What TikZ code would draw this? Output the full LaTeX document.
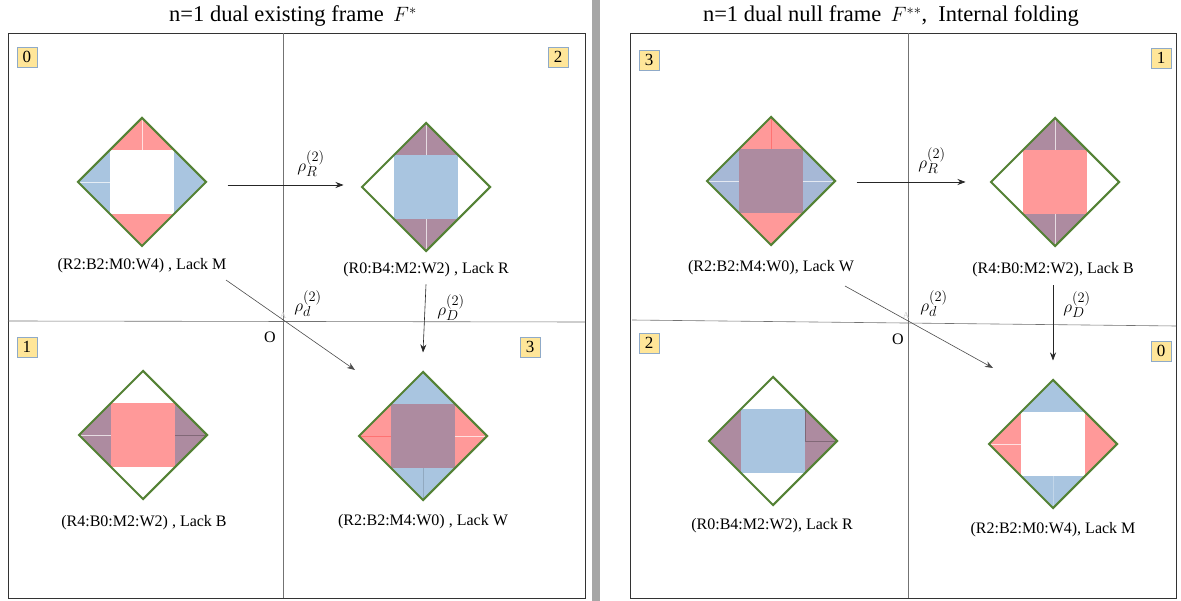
\documentclass[tikz,border=0pt]{standalone}
\usepackage{fontspec}
\setmainfont{Liberation Serif}
\DeclareMathSizes{16}{16}{14}{11}
\usetikzlibrary{arrows.meta,shapes.geometric}
\definecolor{fred}{HTML}{FF9999}
\definecolor{fblue}{HTML}{A9C5E0}
\definecolor{fblue2}{HTML}{A6B8D6}
\definecolor{fpurp}{HTML}{AD8BA0}
\definecolor{fgreen}{HTML}{548235}
\definecolor{nbfill}{HTML}{FFE699}
\definecolor{nbdraw}{HTML}{8FAAC8}
\definecolor{sepgray}{HTML}{A6A6A6}
\tikzset{
  frame/.style={draw=black!80,line width=0.8pt},
  axis/.style={draw=black!55,line width=0.6pt},
  dia/.style={diamond,draw=fgreen,line width=2pt,minimum width=129pt,minimum height=129pt,inner sep=0pt},
  numbox/.style={fill=nbfill,draw=nbdraw,line width=0.8pt,minimum size=20pt,inner sep=0pt,font=\fontsize{17}{17}\selectfont},
  lab/.style={font=\fontsize{16}{18}\selectfont,inner sep=1pt},
  title/.style={font=\fontsize{22.5}{25}\selectfont,inner sep=1pt},
  rho/.style={font=\fontsize{16}{18}\selectfont,inner sep=1pt},
  arr/.style={draw=black!85,line width=0.6pt,-{Stealth[length=8pt,width=6pt]}},
  fold/.style={draw=white,opacity=0.7,line width=0.7pt},
  foldd/.style={draw=black,opacity=0.25,line width=0.7pt},
}
% #1 name, #2 cx, #3 cy, #4 top/bottom colour, #5 left/right colour, #6 centre colour, #7 fold lines
\newcommand{\foldfig}[7]{%
  \begin{scope}[shift={(#2,#3)}]
    \fill[#4] (-32,-32) -- (0,-64) -- (32,-32) -- cycle;
    \fill[#4] (-32,32) -- (0,64) -- (32,32) -- cycle;
    \fill[#5] (-32,-32) -- (-64,0) -- (-32,32) -- cycle;
    \fill[#5] (32,-32) -- (64,0) -- (32,32) -- cycle;
    \fill[#6] (-32,-32) rectangle (32,32);
    #7
  \end{scope}
  \node[dia] (#1) at (#2,#3) {};
}
\begin{document}
\begin{tikzpicture}[x=1pt,y=-1pt]
\useasboundingbox (0,0) rectangle (1181,601);
\fill[white] (0,0) rectangle (1181,601);
\fill[sepgray] (592,0) rectangle (600,601);

% ---------------- left panel ----------------
\node[title,anchor=base] (tL) at (293,22) {n=1 dual existing frame\, $F^{*}$};
\draw[frame] (8,33) rectangle (585,598);
\draw[axis] (283,33) -- (283,598);
\draw[axis] (8,321) -- (585,322);

\node[numbox] (b0L) at (27,57) {0};
\node[numbox] (b2L) at (558,57) {2};
\node[numbox] (b1L) at (27,347) {1};
\node[numbox] (b3L) at (530,347) {3};

\foldfig{LTL}{142}{182}{fred}{fblue}{white}{\draw[fold] (0,-64) -- (0,-32); \draw[fold] (-64,0) -- (-32,0);}
\foldfig{LTR}{426}{187}{fpurp}{white}{fblue}{\draw[fold] (0,-64) -- (0,-32); \draw[fold] (0,64) -- (0,32);}
\foldfig{LBL}{143}{435}{white}{fpurp}{fred}{\draw[fold] (-64,0) -- (-32,0); \draw[foldd] (64,0) -- (32,0);}
\foldfig{LBR}{423}{436}{fblue}{fred}{fpurp}{\draw[foldd,draw=red] (-64,0) -- (-32,0); \draw[fold] (64,0) -- (32,0); \draw[fold,draw=fblue!80!black] (0,64) -- (0,32);}

\node[lab] (lLTL) at (142,266) {(R2:B2:M0:W4) , Lack M};
\node[lab] (lLTR) at (426,270) {(R0:B4:M2:W2) , Lack R};
\node[lab] (lLBL) at (144,523) {(R4:B0:M2:W2) , Lack B};
\node[lab] (lLBR) at (423,522) {(R2:B2:M4:W0) , Lack W};

\node[font=\fontsize{16}{16}\selectfont] (oL) at (270,337) {O};
\node[text=black!20,font=\fontsize{9}{9}\selectfont,inner sep=0pt] (aL) at (283,316) {A};

\draw[arr] ([xshift=20pt,yshift=-3pt]LTL.east) -- ([xshift=-17pt,yshift=2pt]LTR.west);
\node[rho] (rRL) at (311,164) {$\rho_R^{(2)}$};
\draw[arr] ([yshift=-6pt]lLTR.south) -- ([yshift=18pt]LBR.north);
\node[rho] (rDL) at (451,308) {$\rho_D^{(2)}$};
\coordinate (dsL) at (226,280);
\coordinate (deL) at (355,370);
\draw[arr,draw=black!70] (dsL) -- (deL);
\node[rho] (rdL) at (308,304) {$\rho_d^{(2)}$};

% ---------------- right panel ----------------
\node[title,anchor=base] (tR) at (891,22) {n=1 dual null frame\, $F^{**}$,\ \ Internal folding};
\draw[frame] (630,33) rectangle (1176,598);
\draw[axis] (908,33) -- (908,598);
\draw[axis] (632,320) -- (1176,326);

\node[numbox] (b3R) at (649,60) {3};
\node[numbox] (b1R) at (1161,58) {1};
\node[numbox] (b2R) at (649,343) {2};
\node[numbox] (b0R) at (1161,351) {0};

\foldfig{RTL}{771}{181}{fred}{fblue2}{fpurp}{\draw[foldd,draw=red] (0,-64) -- (0,-32); \draw[fold] (-64,0) -- (-32,0); \draw[fold] (64,0) -- (32,0);}
\foldfig{RTR}{1055}{182}{fpurp}{white}{fred}{\draw[fold] (0,-64) -- (0,-32); \draw[fold] (0,64) -- (0,32);}
\foldfig{RBL}{773}{441}{white}{fpurp}{fblue}{\draw[foldd] (64,0) -- (32,0); \draw[foldd] (32,0) -- (32,-32);}
\foldfig{RBR}{1053}{444}{fblue}{fred}{white}{\draw[fold] (-64,0) -- (-32,0); \draw[fold,opacity=0.3] (0,64) -- (0,32);}

\node[lab] (lRTL) at (771,268) {(R2:B2:M4:W0), Lack W};
\node[lab] (lRTR) at (1053,270) {(R4:B0:M2:W2), Lack B};
\node[lab] (lRBL) at (772,526) {(R0:B4:M2:W2), Lack R};
\node[lab] (lRBR) at (1053,530) {(R2:B2:M0:W4), Lack M};

\node[font=\fontsize{16}{16}\selectfont] (oR) at (898,339) {O};
\node[text=black!20,font=\fontsize{9}{9}\selectfont,inner sep=0pt] (aR) at (906,316) {A};

\draw[arr] ([xshift=20pt,yshift=-1pt]RTL.east) -- ([xshift=-24pt]RTR.west);
\node[rho] (rRR) at (932,161) {$\rho_R^{(2)}$};
\draw[arr] ([yshift=-7pt]lRTR.south) -- ([yshift=18pt]RBR.north);
\node[rho] (rDR) at (1077,305) {$\rho_D^{(2)}$};
\coordinate (dsR) at (845,286);
\coordinate (deR) at (993,368);
\draw[arr,draw=black!70] (dsR) -- (deR);
\node[rho] (rdR) at (934,304) {$\rho_d^{(2)}$};
\end{tikzpicture}
\end{document}
